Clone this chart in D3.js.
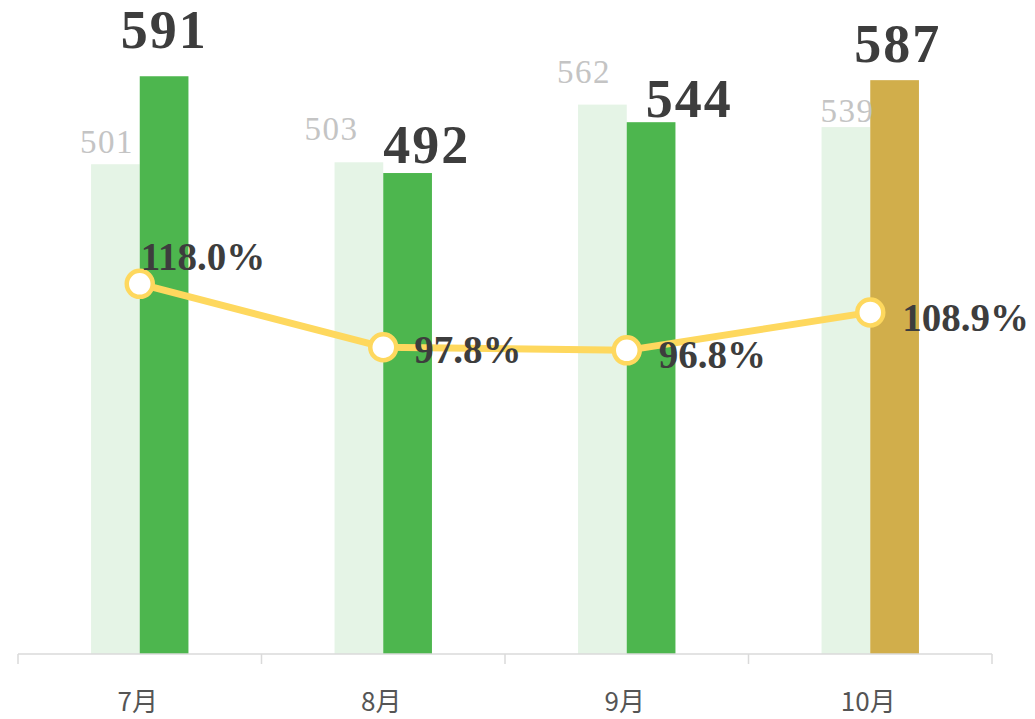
<!DOCTYPE html>
<html>
<head>
<meta charset="utf-8">
<script src="https://cdn.jsdelivr.net/npm/d3@7"></script>
<style>
  html, body { margin: 0; padding: 0; background: #fff; }
  svg { display: block; }
</style>
</head>
<body>
<div id="chart"></div>
<script>
// data
const months = ["7月", "8月", "9月", "10月"];
const lastYear = [501, 503, 562, 539];
const thisYear = [591, 492, 544, 587];
const ratio = [118.0, 97.8, 96.8, 108.9];

const width = 1035, height = 719;
const axisY = 654;

// label nudges (layout only) so the labels do not collide
const greyNudge = [[-11, -11], [-30, -22], [-21, -22], [-1, -5]];
const bigNudge = [[-19, -28], [0, -10], [19, -5], [-16, -18]];
const pctNudge = [[1, -14], [31, 16], [32, 18], [32, 19]];

const svg = d3.select("#chart").append("svg")
  .attr("width", width)
  .attr("height", height);

const x = d3.scaleBand()
  .domain(months)
  .range([18, 992])
  .padding(0);

const y = d3.scaleLinear().domain([0, 669]).range([axisY, 0]);
const y2 = d3.scaleLinear().domain([0, 208.5]).range([axisY, 0]);

const barW = x.bandwidth() * 0.2;
const cx = m => x(m) + x.bandwidth() / 2;

// bars
const rows = months.map((m, i) => ({m, i, prev: lastYear[i], cur: thisYear[i], r: ratio[i]}));

svg.append("g").selectAll("rect")
  .data(rows)
  .join("rect")
    .attr("x", d => cx(d.m) - barW)
    .attr("y", d => y(d.prev))
    .attr("width", barW)
    .attr("height", d => axisY - y(d.prev))
    .attr("fill", "#e5f4e6");

svg.append("g").selectAll("rect")
  .data(rows)
  .join("rect")
    .attr("x", d => cx(d.m))
    .attr("y", d => y(d.cur))
    .attr("width", barW)
    .attr("height", d => axisY - y(d.cur))
    .attr("fill", (d, i) => i === rows.length - 1 ? "#d1ae4b" : "#4db64e");

// axis
const ax = svg.append("g").attr("stroke", "#dadada").attr("stroke-width", 1.5);
ax.append("line")
  .attr("x1", x.range()[0]).attr("x2", x.range()[1])
  .attr("y1", axisY).attr("y2", axisY);
ax.selectAll("line.tick")
  .data(months.map(m => x(m)).concat([x.range()[1]]))
  .join("line")
    .attr("class", "tick")
    .attr("x1", d => d).attr("x2", d => d)
    .attr("y1", axisY).attr("y2", axisY + 10);

svg.append("g").selectAll("text")
  .data(months)
  .join("text")
    .attr("x", d => cx(d) - 2)
    .attr("y", 711)
    .attr("text-anchor", "middle")
    .attr("font-family", "'Noto Sans CJK JP', 'Noto Sans', sans-serif")
    .attr("font-size", 26)
    .attr("fill", "#555")
    .text(d => d);

// value labels
svg.append("g").selectAll("text")
  .data(rows)
  .join("text")
    .attr("x", d => cx(d.m) - barW + greyNudge[d.i][0])
    .attr("y", d => y(d.prev) + greyNudge[d.i][1])
    .attr("font-family", "'Liberation Serif', serif")
    .attr("font-size", 33)
    .attr("letter-spacing", 1.5)
    .attr("fill", "#c4c4c4")
    .text(d => d.prev);

svg.append("g").selectAll("text")
  .data(rows)
  .join("text")
    .attr("x", d => cx(d.m) + bigNudge[d.i][0])
    .attr("y", d => y(d.cur) + bigNudge[d.i][1])
    .attr("font-family", "'Liberation Serif', serif")
    .attr("font-weight", "bold")
    .attr("font-size", 54)
    .attr("letter-spacing", 2)
    .attr("fill", "#3d3d3d")
    .text(d => d.cur);

// ratio line
const line = d3.line()
  .x(d => cx(d.m))
  .y(d => y2(d.r));

svg.append("path")
  .datum(rows)
  .attr("d", line)
  .attr("fill", "none")
  .attr("stroke", "#fed85e")
  .attr("stroke-width", 7)
  .attr("stroke-linejoin", "round");

svg.append("g").selectAll("circle")
  .data(rows)
  .join("circle")
    .attr("cx", d => cx(d.m))
    .attr("cy", d => y2(d.r))
    .attr("r", 13)
    .attr("fill", "#fff")
    .attr("stroke", "#fed85e")
    .attr("stroke-width", 4.5);

svg.append("g").selectAll("text")
  .data(rows)
  .join("text")
    .attr("x", d => cx(d.m) + pctNudge[d.i][0])
    .attr("y", d => y2(d.r) + pctNudge[d.i][1])
    .attr("font-family", "'Liberation Serif', serif")
    .attr("font-weight", "bold")
    .attr("font-size", 39)
    .attr("fill", "#3d3d3d")
    .text(d => d.r.toFixed(1) + "%");
</script>
</body>
</html>
